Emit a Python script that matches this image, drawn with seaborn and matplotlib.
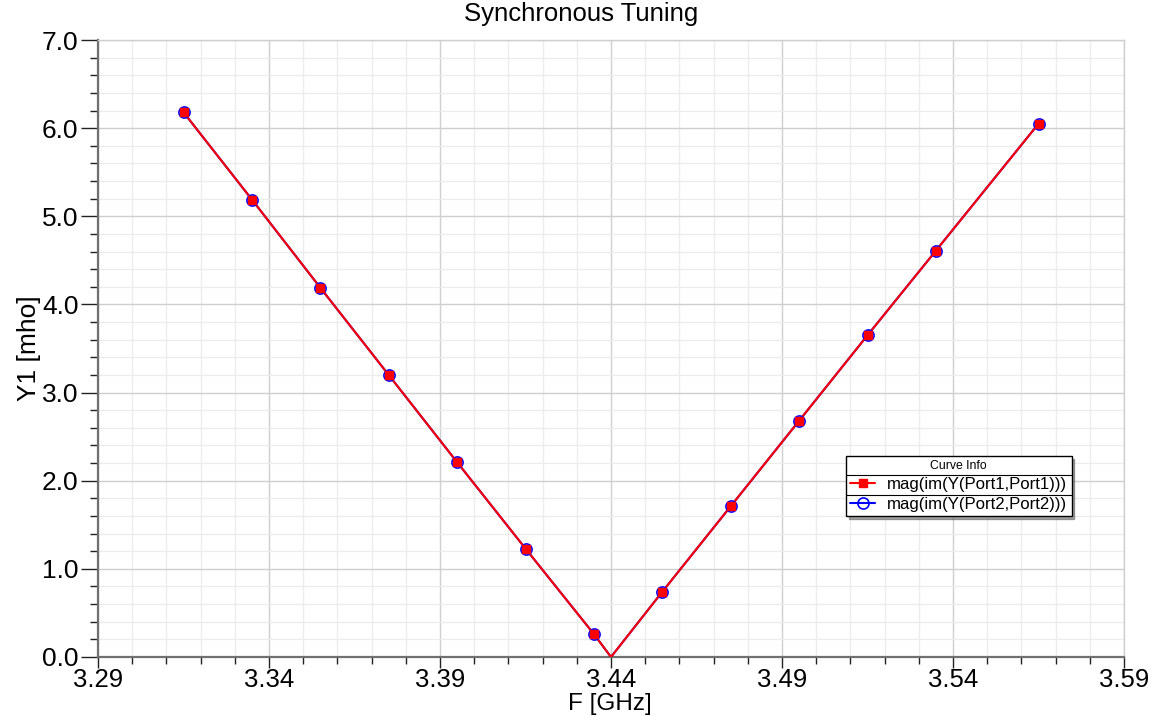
import numpy as np
import pandas as pd
import matplotlib
matplotlib.use("Agg")
import matplotlib.pyplot as plt
from matplotlib.lines import Line2D
import seaborn as sns

# ---- data ----
freq_marker = [3.315, 3.335, 3.355, 3.375, 3.395, 3.415, 3.435,
               3.455, 3.475, 3.495, 3.515, 3.535, 3.565]
y11_marker = [6.18, 5.19, 4.19, 3.20, 2.21, 1.23, 0.26,
              0.74, 1.71, 2.68, 3.65, 4.61, 6.05]
y22_marker = [6.18, 5.19, 4.19, 3.20, 2.21, 1.23, 0.26,
              0.74, 1.71, 2.68, 3.65, 4.61, 6.05]
# zero crossing point of the sweep (line only)
freq_zero = [3.44]
y_zero = [0.0]

series1 = "mag(im(Y(Port1,Port1)))"
series2 = "mag(im(Y(Port2,Port2)))"
title = "Synchronous Tuning"
xlabel = "F [GHz]"
ylabel = "Y1 [mho]"
xticks = [3.29, 3.34, 3.39, 3.44, 3.49, 3.54, 3.59]
yticks = [0.0, 1.0, 2.0, 3.0, 4.0, 5.0, 6.0, 7.0]

sns.set_theme(style="white")
plt.rcParams['font.family'] = ['Liberation Sans', 'DejaVu Sans']
plt.rcParams['text.color'] = 'black'
plt.rcParams['axes.labelcolor'] = 'black'
plt.rcParams['xtick.color'] = 'black'
plt.rcParams['ytick.color'] = 'black'

def line_df(fm, ym):
    xs = list(fm[:7]) + freq_zero + list(fm[7:])
    ys = list(ym[:7]) + y_zero + list(ym[7:])
    return pd.DataFrame({"F": xs, "Y": ys})

df1 = line_df(freq_marker, y11_marker)
df2 = line_df(freq_marker, y22_marker)
dm1 = pd.DataFrame({"F": freq_marker, "Y": y11_marker})
dm2 = pd.DataFrame({"F": freq_marker, "Y": y22_marker})

fig = plt.figure(figsize=(11.63, 7.16), dpi=100)
ax = fig.add_axes([98/1163, 1-657/716, (1124-98)/1163, (657-40)/716])

sns.lineplot(data=df2, x="F", y="Y", ax=ax, color="blue", lw=1.5, sort=False,
             estimator=None, zorder=3)
sns.lineplot(data=df1, x="F", y="Y", ax=ax, color="red", lw=1.5, sort=False,
             estimator=None, zorder=4)
ax.plot(dm2["F"], dm2["Y"], ls="none", marker="o", ms=8, mfc="none",
        mec="blue", mew=1.2, zorder=5)
ax.plot(dm1["F"], dm1["Y"], ls="none", marker="s", ms=6, mfc="red",
        mec="red", zorder=6)

ax.set_xlim(3.29, 3.59)
ax.set_ylim(0, 7)
ax.set_xticks(xticks)
ax.set_xticklabels([f"{v:.2f}" for v in xticks])
ax.set_yticks(yticks)
ax.set_yticklabels([f"{v:.1f}" for v in yticks])
ax.set_xticks(np.arange(3.29, 3.5901, 0.01), minor=True)
ax.set_yticks(np.arange(0, 7.001, 0.2), minor=True)

ax.grid(which="major", color="#cfcfcf", lw=1.0, zorder=0)
ax.grid(which="minor", color="#ececec", lw=0.9, zorder=0)
ax.set_axisbelow(True)

ax.tick_params(axis="both", which="major", direction="out", length=12, width=1,
               color="#222222", labelsize=19, pad=2, left=True, bottom=True)
ax.tick_params(axis="both", which="minor", direction="out", length=6, width=1,
               color="#222222", left=True, bottom=True)
ax.tick_params(axis="x", which="major", length=8, pad=0, labelsize=18.5)
ax.tick_params(axis="x", which="minor", length=5)

for s in ["left", "bottom"]:
    ax.spines[s].set_color("#707070")
    ax.spines[s].set_linewidth(1.6)
for s in ["top", "right"]:
    ax.spines[s].set_color("#cfcfcf")
    ax.spines[s].set_linewidth(1.0)

ax.set_xlabel(xlabel, fontsize=17.5)
ax.xaxis.set_label_coords(0.5, -0.0, transform=fig.transFigure + 
                          matplotlib.transforms.Affine2D().translate(0, 0))
ax.xaxis.label.set_va("bottom")
ax.xaxis.set_label_coords(610/1163, 0.001, transform=fig.transFigure)
ax.set_ylabel(ylabel, fontsize=19, labelpad=1)
fig.suptitle(title, fontsize=18.5, y=0.997, va="top")

handles = [
    Line2D([], [], color="red", lw=1.5, marker="s", ms=6, mfc="red", mec="red"),
    Line2D([], [], color="blue", lw=1.5, marker="o", ms=8, mfc="none", mec="blue", mew=1.2),
]
leg = ax.legend(handles, [series1, series2], title="Curve Info",
                loc="upper left", bbox_to_anchor=(846/1163, 1-456/716),
                bbox_transform=fig.transFigure, fontsize=12.1,
                title_fontsize=8.8, frameon=True, fancybox=False, shadow=True,
                edgecolor="black", framealpha=1, borderpad=0.25,
                labelspacing=0.3, handlelength=1.5, handletextpad=0.7,
                borderaxespad=0)
leg.get_frame().set_linewidth(1.0)
leg.set_zorder(10)

# separator lines between legend rows
fig.canvas.draw()
bb = leg.get_window_extent()
texts = leg.get_texts()
tb = leg.get_title().get_window_extent()
t0 = texts[0].get_window_extent()
t1 = texts[1].get_window_extent()
inv = fig.transFigure.inverted()
for ypix in [(tb.y0 + t0.y1) / 2, (t0.y0 + t1.y1) / 2]:
    (x0, y0) = inv.transform((bb.x0, ypix))
    (x1, _) = inv.transform((bb.x1, ypix))
    fig.add_artist(Line2D([x0, x1], [y0, y0], color="black", lw=0.8, zorder=11))

fig.savefig("out.png", dpi=100)
